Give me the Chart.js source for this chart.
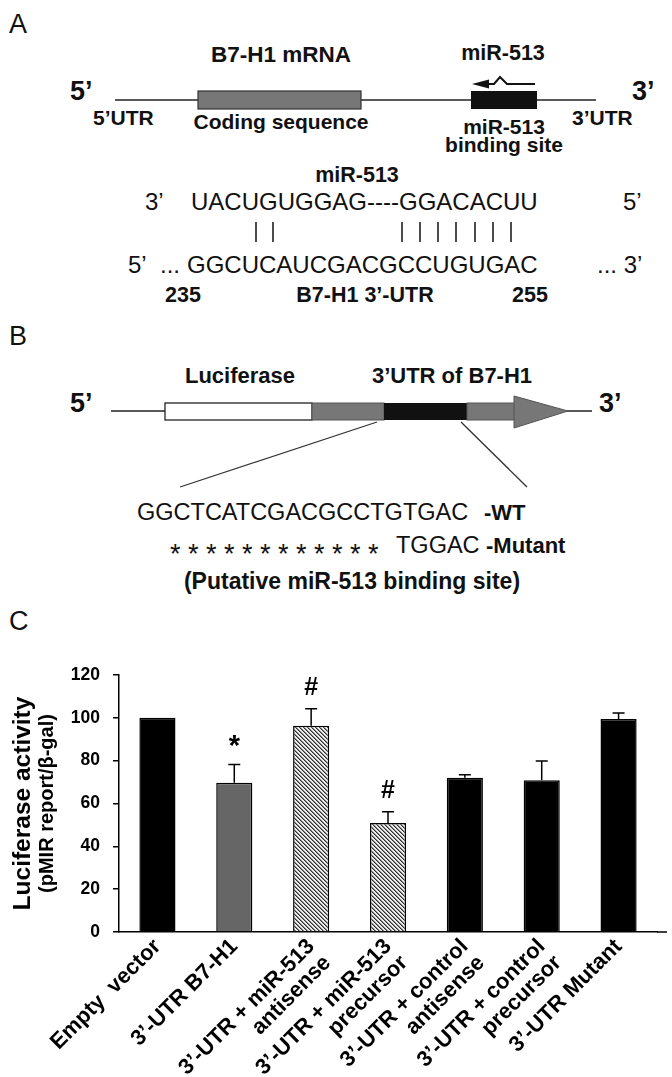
<!DOCTYPE html>
<html>
<head>
<meta charset="utf-8">
<title>miR-513 / B7-H1</title>
<script src="https://cdn.jsdelivr.net/npm/chart.js@4/dist/chart.umd.min.js"></script>
<style>
    body { margin: 0; background: #fff; }
    #pagina { position: relative; width: 672px; height: 1077px; overflow: hidden;
              font-family: "Liberation Sans", Arial, sans-serif; }
    #schema { position: absolute; left: 0; top: 0; }
    #boxGrafico { position: absolute; left: 0; top: 640px; width: 672px; height: 437px; }
    svg text { fill: #111; font-family: "Liberation Sans", Arial, sans-serif; }
    svg .b { font-weight: bold; }
    svg .lettera { font-size: 27px; }
</style>
</head>
<body>
<div id="pagina">

    <!-- Pannelli A e B: schemi disegnati in SVG -->
    <svg id="schema" width="672" height="640" viewBox="0 0 672 640">
        <!-- ===== A ===== -->
        <text class="lettera" x="9" y="33">A</text>
        <text class="b" x="281" y="62" font-size="22.5" text-anchor="middle">B7-H1 mRNA</text>
        <text class="b" x="503" y="60" font-size="21.5" text-anchor="middle">miR-513</text>
        <text class="b" x="70" y="100" font-size="27">5’</text>
        <text class="b" x="632" y="100" font-size="27">3’</text>

        <line x1="115" y1="100" x2="596" y2="100" stroke="#222" stroke-width="1.5"/>
        <rect x="198" y="91" width="163" height="18" fill="#777" stroke="#333" stroke-width="1.2"/>
        <rect x="471" y="91" width="66" height="18" fill="#111"/>
        <polyline points="535,84 507,84 500,77 494,84 486,84" fill="none" stroke="#111" stroke-width="2"/>
        <polygon points="472,84 489,79.5 489,88.5" fill="#111"/>

        <text class="b" x="93" y="125" font-size="21">5’UTR</text>
        <text class="b" x="281" y="129" font-size="21" text-anchor="middle">Coding sequence</text>
        <text class="b" x="504" y="134" font-size="21" text-anchor="middle">miR-513</text>
        <text class="b" x="504" y="152" font-size="21" text-anchor="middle">binding site</text>
        <text class="b" x="572" y="125" font-size="21">3’UTR</text>

        <text class="b" x="357" y="182" font-size="21.5" text-anchor="middle">miR-513</text>
        <text x="145" y="210" font-size="24">3’</text>
        <text x="191" y="210" font-size="24">UACUGUGGAG----GGACACUU</text>
        <text x="623" y="210" font-size="24">5’</text>
        <g stroke="#111" stroke-width="1.5">
            <line x1="256" y1="222" x2="256" y2="242"/>
            <line x1="273" y1="222" x2="273" y2="242"/>
            <line x1="402" y1="222" x2="402" y2="242"/>
            <line x1="420" y1="222" x2="420" y2="242"/>
            <line x1="438" y1="222" x2="438" y2="242"/>
            <line x1="456" y1="222" x2="456" y2="242"/>
            <line x1="475" y1="222" x2="475" y2="242"/>
            <line x1="493" y1="222" x2="493" y2="242"/>
            <line x1="511" y1="222" x2="511" y2="242"/>
        </g>
        <text x="128" y="273" font-size="24">5’</text>
        <text x="160" y="273" font-size="24">...</text>
        <text x="187" y="273" font-size="24">GGCUCAUCGACGCCUGUGAC</text>
        <text x="597" y="273" font-size="24">... 3’</text>
        <text class="b" x="165" y="302" font-size="21.5">235</text>
        <text class="b" x="365" y="302" font-size="21.5" text-anchor="middle">B7-H1 3’-UTR</text>
        <text class="b" x="512" y="302" font-size="21.5">255</text>

        <!-- ===== B ===== -->
        <text class="lettera" x="9" y="345">B</text>
        <text class="b" x="240" y="383" font-size="22" text-anchor="middle">Luciferase</text>
        <text class="b" x="452" y="383" font-size="22" text-anchor="middle">3’UTR of B7-H1</text>
        <text class="b" x="70" y="412" font-size="27">5’</text>
        <text class="b" x="599" y="412" font-size="27">3’</text>

        <line x1="111" y1="411" x2="165" y2="411" stroke="#222" stroke-width="1.5"/>
        <line x1="566" y1="411" x2="592" y2="411" stroke="#222" stroke-width="1.5"/>
        <rect x="165" y="403" width="147" height="17" fill="#fff" stroke="#222" stroke-width="1.3"/>
        <rect x="312" y="403" width="72" height="17" fill="#777" stroke="#555" stroke-width="1"/>
        <rect x="384" y="403" width="83" height="17" fill="#111"/>
        <rect x="467" y="403" width="48" height="17" fill="#777" stroke="#555" stroke-width="1"/>
        <polygon points="514,396 568,411 514,428" fill="#777" stroke="#555" stroke-width="1"/>
        <line x1="377" y1="422" x2="180" y2="487" stroke="#333" stroke-width="1.3"/>
        <line x1="461" y1="422" x2="527" y2="487" stroke="#333" stroke-width="1.3"/>

        <text x="137" y="520" font-size="23.5">GGCTCATCGACGCCTGTGAC</text>
        <text class="b" x="484" y="520" font-size="22">-WT</text>
        <g font-size="27">
            <text x="170" y="563">*</text><text x="188" y="563">*</text>
            <text x="206" y="563">*</text><text x="224" y="563">*</text>
            <text x="242" y="563">*</text><text x="260" y="563">*</text>
            <text x="278" y="563">*</text><text x="296" y="563">*</text>
            <text x="314" y="563">*</text><text x="332" y="563">*</text>
            <text x="350" y="563">*</text><text x="368" y="563">*</text>
        </g>
        <text x="396" y="553" font-size="23.5">TGGAC</text>
        <text class="b" x="486" y="553" font-size="22">-Mutant</text>
        <text class="b" x="352" y="589" font-size="23" text-anchor="middle">(Putative miR-513 binding site)</text>

        <!-- ===== C ===== -->
        <text class="lettera" x="9" y="630">C</text>
    </svg>

    <div id="boxGrafico">
        <canvas id="canvasLuciferasi" width="672" height="437"></canvas>
    </div>
</div>

<script>
"use strict";

// ============================================================
// DATI DEL GRAFICO C
// ============================================================
const categorie = [
    "Empty  vector",
    "3’-UTR B7-H1",
    ["3’-UTR + miR-513", "antisense"],
    ["3’-UTR + miR-513", "precursor"],
    ["3’-UTR + control", "antisense"],
    ["3’-UTR + control", "precursor"],
    "3’-UTR Mutant"
];
const valori  = [100, 69.7, 96.3, 50.9, 72.0, 70.9, 99.5];  // attività luciferasi
const errori  = [0, 8.5, 7.9, 5.2, 1.4, 9.0, 2.7];          // solo barra superiore
const simboli = ["", "*", "#", "#", "", "", ""];            // significatività
const tickY   = [0, 20, 40, 60, 80, 100, 120];

const FONT = "'Liberation Sans', Arial, sans-serif";

let graficoLuciferasi;

// ============================================================
// creaTratteggio() — pattern a righe oblique per le barre miR-513
// ============================================================
function creaTratteggio(ctx) {
    let tile = document.createElement("canvas");
    tile.width = 4;
    tile.height = 4;
    let g = tile.getContext("2d");
    g.fillStyle = "#ececec";
    g.fillRect(0, 0, 4, 4);
    for (let i = 0; i < 4; i++) {
        g.fillStyle = "#2e2e2e";
        g.fillRect(i, i, 1, 1);
        g.fillStyle = "#8a8a8a";
        g.fillRect((i + 1) % 4, i, 1, 1);
    }
    return ctx.createPattern(tile, "repeat");
}

// ============================================================
// Plugin: barre di errore, simboli, titolo asse y
// ============================================================
const pluginDettagli = {
    id: "dettagli",
    afterDatasetsDraw(chart) {
        const c = chart.ctx;
        const y = chart.scales.y;
        const area = chart.chartArea;
        const barre = chart.getDatasetMeta(0).data;

        c.save();
        c.strokeStyle = "#000";
        c.lineWidth = 1.5;

        // barre di errore (solo verso l'alto)
        barre.forEach(function (bar, i) {
            if (!errori[i]) return;
            let yTop = y.getPixelForValue(valori[i] + errori[i]);
            c.beginPath();
            c.moveTo(bar.x, bar.y);
            c.lineTo(bar.x, yTop);
            c.moveTo(bar.x - 6, yTop);
            c.lineTo(bar.x + 6, yTop);
            c.stroke();
        });

        // asse x un po' più lungo dell'area delle categorie
        let y0 = y.getPixelForValue(0);
        c.beginPath();
        c.moveTo(area.right, y0);
        c.lineTo(area.right + 10, y0);
        c.stroke();

        // simboli * e #
        c.fillStyle = "#000";
        c.textAlign = "center";
        c.textBaseline = "alphabetic";
        barre.forEach(function (bar, i) {
            if (!simboli[i]) return;
            let yTop = y.getPixelForValue(valori[i] + errori[i]);
            c.font = (simboli[i] === "*" ? "bold 29px " : "bold 25px ") + FONT;
            c.fillText(simboli[i], bar.x, yTop - (simboli[i] === "*" ? 10 : 14));
        });

        // titolo asse y su due righe di dimensione diversa
        let yc = (area.top + area.bottom) / 2;
        c.textBaseline = "middle";
        c.translate(23, yc);
        c.rotate(-Math.PI / 2);
        c.font = "bold 24.5px " + FONT;
        c.fillText("Luciferase activity", 0, 0);
        c.font = "bold 20px " + FONT;
        c.fillText("(pMIR report/β-gal)", 0, 24);
        c.restore();
    }
};

// ============================================================
// creaGrafico()
// ============================================================
function creaGrafico() {
    let canvas = document.getElementById("canvasLuciferasi");
    let ctx = canvas.getContext("2d");
    let righe = creaTratteggio(ctx);

    graficoLuciferasi = new Chart(ctx, {
        type: "bar",
        data: {
            labels: categorie,
            datasets: [{
                data: valori,
                backgroundColor: ["#000", "#666", righe, righe, "#000", "#000", "#000"],
                borderColor: "#000",
                borderWidth: 1.5,
                barPercentage: 0.47,
                categoryPercentage: 1
            }]
        },
        options: {
            responsive: false,
            animation: false,
            layout: { padding: { top: 35, right: 15, left: 0, bottom: 0 } },
            plugins: {
                legend: { display: false },
                tooltip: { enabled: false }
            },
            scales: {
                x: {
                    grid: { display: false, drawTicks: false },
                    border: { display: true, color: "#000", width: 1.5 },
                    ticks: {
                        color: "#000",
                        autoSkip: false,
                        minRotation: 45,
                        maxRotation: 45,
                        padding: 3,
                        font: { family: FONT, size: 22, weight: "bold", lineHeight: 1.05 }
                    },
                    afterFit: function (s) { s.height = 145; }
                },
                y: {
                    min: 0,
                    max: 120,
                    grid: { display: true, drawOnChartArea: false, drawTicks: true,
                            tickLength: 6, color: "#000", lineWidth: 1.5 },
                    border: { display: true, color: "#000", width: 1.5 },
                    afterBuildTicks: function (s) {
                        s.ticks = tickY.map(function (v) { return { value: v }; });
                    },
                    ticks: {
                        color: "#000",
                        padding: 13,
                        font: { family: FONT, size: 17.5, weight: "bold" }
                    },
                    afterFit: function (s) { s.width = 119; }
                }
            }
        },
        plugins: [pluginDettagli]
    });
}

creaGrafico();
</script>
</body>
</html>
